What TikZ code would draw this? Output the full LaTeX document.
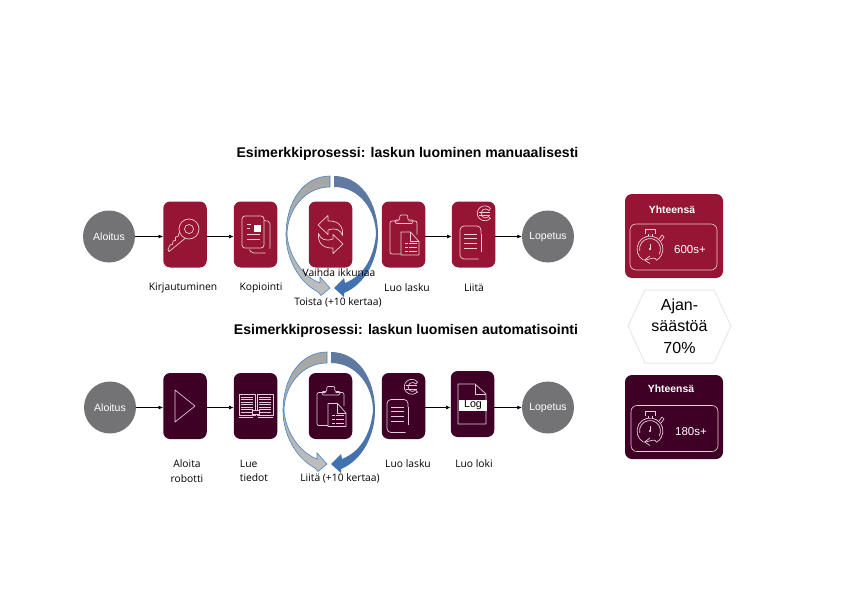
\documentclass[tikz,border=0pt]{standalone}
\usepackage{fontspec}
\setmainfont{Liberation Sans}
\newfontfamily\labelfont{Open Sans}
\usetikzlibrary{arrows, arrows.meta}
\usetikzlibrary{positioning}
\definecolor{procred}{RGB}{150,21,52}
\definecolor{procdark}{RGB}{63,0,38}
\definecolor{startgray}{RGB}{115,115,118}
\definecolor{iconred}{RGB}{238,205,213}
\definecolor{icondark}{RGB}{228,205,220}
\definecolor{hexline}{RGB}{232,232,232}
\definecolor{arrowblue}{RGB}{74,134,197}
\definecolor{looptop}{RGB}{98,122,160}
\definecolor{loopmid}{RGB}{78,112,165}
\definecolor{loopend}{RGB}{62,112,178}
\definecolor{graytop}{RGB}{165,165,165}
\definecolor{grayend}{RGB}{190,190,190}
\tikzset{
	stepbox/.style={rectangle, rounded corners=7pt, minimum width=43.5pt, minimum height=66pt, inner sep=0pt},
	endcircle/.style={circle, fill=startgray, text=white, minimum size=52pt, inner sep=0pt, font=\fontsize{10.5}{12}\selectfont},
	steplabel/.style={font=\labelfont\fontsize{10.3}{14.5}\selectfont, text=black, inner sep=0pt, align=center},
	flow/.style={-{Latex[length=4.5pt,width=4pt]}, line width=0.6pt, black},
	heading/.style={font=\bfseries\fontsize{14.05}{16}\selectfont, inner sep=0pt},
	cardbox/.style={rectangle, rounded corners=7pt, minimum width=98pt, minimum height=84pt, inner sep=0pt},
	cardinner/.style={rectangle, rounded corners=6pt, draw=iconred, line width=0.6pt, minimum width=87pt, minimum height=46pt, inner sep=0pt},
	cardtext/.style={text=white, inner sep=0pt},
	iconline/.style={line width=0.7pt, line join=round}
}
% key
\newcommand{\iconkey}{
	\draw (4,-5.5) circle (10);
	\draw (4,-5.5) circle (4.5);
	\draw (-5.5,-2.5) -- (-7,2) -- (-9.5,2.5) -- (-9.5,6) -- (-12,6.5) -- (-12.5,10) -- (-15,10.5) -- (-17,15) -- (-16,17) -- (0,4);
}
% copied page
\newcommand{\iconcopy}{
	\draw[rounded corners=3pt] (-13.5,-18.5) rectangle (8.5,13.5);
	\draw[rounded corners=2pt] (8.5,-14) -- (14.5,-13) -- (14.5,14);
	\draw[rounded corners=2pt] (-6,15) -- (-4,18.5) -- (10,18.5);
	\fill[white] (-2,-10) rectangle (5,-3);
	\draw (-9,-10.5) -- (-4.5,-10.5);
	\draw (-9,-6) -- (-5.5,-6);
	\draw (-9,-0.5) -- (4.5,-0.5);
	\draw (-9,4.5) -- (4.5,4.5);
}
% swap arrows
\newcommand{\iconswapone}{
	\draw (-12.5,-9.5) -- (-2.5,-19) -- (-2.5,-13.5) .. controls (8,-14) and (13,-8) .. (12,1) .. controls (10,-5) and (5,-7) .. (-2.5,-4.5) -- (-2.5,0) -- cycle;
}
\newcommand{\iconswap}{
	\iconswapone
	\begin{scope}[rotate=180]
		\iconswapone
	\end{scope}
}
% clipboard with page
\newcommand{\iconclip}[1]{
	\draw[rounded corners=2pt] (-5,-13.5) -- (-13.5,-13.5) -- (-13.5,19.5) -- (-2.5,19.5);
	\draw[rounded corners=2pt] (5,-13.5) -- (13.5,-13.5) -- (13.5,0);
	\draw[rounded corners=1pt] (-8.5,-13) -- (-8.5,-14.5) -- (-4,-14.5) -- (-3.5,-19.5) -- (4,-19.5) -- (4.5,-14.5) -- (9.5,-14.5) -- (9.5,-13) -- (9,-11) -- (-8,-11) -- cycle;
	\draw[fill=#1] (-2.5,-2.5) -- (7,-2.5) -- (15.5,7) -- (15.5,20.5) -- (-2.5,20.5) -- cycle;
	\draw (7,-2.5) -- (7,7) -- (15.5,7);
	\foreach \rowy in {9,13,17} {
		\draw (1.5,\rowy) -- (4,\rowy);
		\draw (5.5,\rowy) -- (13,\rowy);
	}
}
% invoice with euro
\newcommand{\iconbill}{
	\draw[rounded corners=4pt] (7.5,-1) -- (7.5,-8.5) -- (-13.5,-8.5) -- (-13.5,24.5) -- (5,24.5);
	\draw (7.5,-1) -- (7.5,17);
	\foreach \rowy in {-0.5,3.5,8.5,13.5} {
		\draw (-9.5,\rowy) -- (3.5,\rowy);
	}
	\draw (17,-26) arc (-40:-320:7.5);
	\draw (15.5,-24) arc (-40:-320:4.5);
	\draw (17,-26) -- (15.5,-24);
	\draw (17,-15.5) -- (15.5,-17.5);
	\draw (5,-22.5) -- (16,-22.5);
	\draw (5,-19) -- (16,-19);
}
% stopwatch
\newcommand{\iconwatch}{
	\draw (120:13) arc (120:420:13);
	\draw (170:10.5) arc (170:390:10.5);
	\draw (-5,-15) -- (-5,-19.5) -- (5,-19.5) -- (5,-15);
	\draw (-2,-15) -- (-2,-13);
	\draw (2,-15) -- (2,-13);
	\draw (9,-10) -- (12,-14) -- (14,-12) -- (11,-8);
	\fill[white] (0,0) circle (1.1);
	\draw (0,0) -- (0,-5.5);
	\draw (60:13) .. controls (5,7) and (2,10) .. (-5,11);
	\draw (0,7) -- (-5.5,11) -- (0,14.5);
}
% book
\newcommand{\iconbook}{
	\draw (-16.5,-12) rectangle (-0.5,9);
	\draw (1.5,-12) rectangle (17.5,9);
	\foreach \rowy in {-9,-6.5,-4,-1.5,1,3.5,6} {
		\draw (-14.5,\rowy) -- (-2.5,\rowy);
		\draw (3.5,\rowy) -- (15.5,\rowy);
	}
	\draw (-16.5,11.5) -- (-2.5,11.5);
	\draw (2.5,11.5) -- (17.5,11.5);
	\draw[fill=procdark] (-3.5,4.5) rectangle (3.5,8.5);
}
\begin{document}
\begin{tikzpicture}[x=1pt,y=-1pt]
	\useasboundingbox (0,0) rectangle (841,594);
	% headings
	\node[heading] (manualtitle) at (407.5,153.5) {Esimerkkiprosessi: laskun luominen manuaalisesti};
	\node[heading] (autotitle) at (406,330.5) {Esimerkkiprosessi: laskun luomisen automatisointi};
	% first row
	\node[endcircle] (startA) at (109,236.5) {Aloitus};
	\node[stepbox, fill=procred] (keyA) at (185,234.5) {};
	\node[stepbox, fill=procred] (copyA) at (255.5,234.5) {};
	\node[stepbox, fill=procred] (swapA) at (330.5,234.5) {};
	\node[stepbox, fill=procred] (clipA) at (403.5,234.5) {};
	\node[stepbox, fill=procred] (billA) at (473.5,234.5) {};
	\node[endcircle] (stopA) at (548,236.5) {Lopetus};
	\draw[flow] (startA) -- (startA -| keyA.west);
	\draw[flow] (keyA.east |- startA) -- (startA -| copyA.west);
	\draw[flow] (clipA.east |- startA) -- (startA -| billA.west);
	\draw[flow] (billA.east |- startA) -- (stopA);
	% second row
	\node[endcircle] (startB) at (110,407.5) {Aloitus};
	\node[stepbox, fill=procdark] (playB) at (185,406) {};
	\node[stepbox, fill=procdark] (bookB) at (255.5,406) {};
	\node[stepbox, fill=procdark] (clipB) at (330.5,406) {};
	\node[stepbox, fill=procdark] (billB) at (403.5,406) {};
	\node[stepbox, fill=procdark] (logB) at (472.5,404) {};
	\node[endcircle] (stopB) at (548,407.5) {Lopetus};
	\draw[flow] (startB) -- (startB -| playB.west);
	\draw[flow] (playB.east |- startB) -- (startB -| bookB.west);
	\draw[flow] (billB.east |- startB) -- (startB -| logB.west);
	\draw[flow] (logB.east |- startB) -- (stopB);
	% icons
	\begin{scope}[iconline, draw=iconred]
		\begin{scope}[shift={(keyA.center)}] \iconkey \end{scope}
		\begin{scope}[shift={(copyA.center)}] \iconcopy \end{scope}
		\begin{scope}[shift={(swapA.center)}] \iconswap \end{scope}
		\begin{scope}[shift={(clipA.center)}] \iconclip{procred} \end{scope}
		\begin{scope}[shift={(billA.center)}] \iconbill \end{scope}
	\end{scope}
	\begin{scope}[iconline, draw=icondark]
		\draw ([shift={(-10,-16)}]playB.center) -- ([shift={(10,0)}]playB.center) -- ([shift={(-10,16)}]playB.center) -- cycle;
		\begin{scope}[shift={(bookB.center)}] \iconbook \end{scope}
		\begin{scope}[shift={(clipB.center)}] \iconclip{procdark} \end{scope}
		\begin{scope}[shift={(400.5,408)}] \iconbill \end{scope}
		% log page
		\draw (458,424) -- (458,384) -- (475,384) -- (486,394) -- (486,424) -- cycle;
		\draw (475,384) -- (475,394) -- (486,394);
	\end{scope}
	\node[fill=white, minimum width=28pt, inner sep=0pt, text height=7.7pt, text depth=2.8pt, font=\fontsize{10.7}{12}\selectfont] (logband) at (473,405.3) {Log};
	% loop arrows
	\foreach \loopx/\loopy in {332/176,329/352} {
		\begin{scope}[shift={(\loopx,\loopy)}]
			\path[top color=looptop, middle color=loopmid, bottom color=loopend] (2,0) .. controls (28,0) and (46,25) .. (46,59) .. controls (46,82) and (34,108) .. (12,117) -- (12,121) -- (2,112) -- (12,102) -- (13,107) .. controls (30,100) and (41,85) .. (44,59) .. controls (44,35) and (28,11) .. (2,11) -- cycle;
			\path[draw=arrowblue, line width=0.6pt, top color=graytop, bottom color=grayend] (-2,0) .. controls (-28,0) and (-46,25) .. (-46,59) .. controls (-46,80) and (-35,105) .. (-14,116) -- (-11,119.5) -- (-2,112) -- (-12,101) -- (-12,107) .. controls (-30,100) and (-43,80) .. (-45,59) .. controls (-45,35) and (-28,11) .. (-2,11) -- cycle;
		\end{scope}
	}
	% labels first row
	\node[steplabel] (keyAtext) at (183,288) {Kirjautuminen};
	\node[steplabel] (copyAtext) at (261,288) {Kopiointi};
	\node[steplabel] (swapAtext) at (339,273) {Vaihda ikkunaa};
	\node[steplabel] (repeatA) at (338,302) {Toista (+10 kertaa)};
	\node[steplabel] (clipAtext) at (407,288) {Luo lasku};
	\node[steplabel] (billAtext) at (474,288) {Liitä};
	% labels second row
	\node[steplabel] (playBtext) at (187,471) {Aloita\\robotti};
	\node[steplabel, align=left] (bookBtext) at (254,471) {Lue\\tiedot};
	\node[steplabel] (repeatB) at (340,478) {Liitä (+10 kertaa)};
	\node[steplabel] (billBtext) at (408,464) {Luo lasku};
	\node[steplabel] (logBtext) at (474,464) {Luo loki};
	% totals
	\node[cardbox, fill=procred] (cardA) at (674,236) {};
	\node[cardinner] (innerA) at (673.5,247) {};
	\node[cardtext, font=\bfseries\fontsize{10.4}{12}\selectfont] (cardAtitle) at (672,209.5) {Yhteensä};
	\node[cardtext, font=\fontsize{11.5}{13}\selectfont] (cardAtime) at (690,250) {600s+};
	\begin{scope}[shift={(650,249)}, iconline, draw=iconred] \iconwatch \end{scope}
	\node[cardbox, fill=procdark] (cardB) at (674,417) {};
	\node[cardinner] (innerB) at (674.5,428.5) {};
	\node[cardtext, font=\bfseries\fontsize{10.4}{12}\selectfont] (cardBtitle) at (671,388.5) {Yhteensä};
	\node[cardtext, font=\fontsize{11.5}{13}\selectfont] (cardBtime) at (691,431.5) {180s+};
	\begin{scope}[shift={(650,431)}, iconline, draw=icondark] \iconwatch \end{scope}
	% saving
	\draw[draw=hexline, fill=white, line width=1pt] (628,326) -- (645,290) -- (714,290) -- (731,326) -- (714,363) -- (645,363) -- cycle;
	\node[align=center, inner sep=0pt, font=\fontsize{16}{21.5}\selectfont] (saving) at (679.5,326) {Ajan-\\säästöä\\70\%};
\end{tikzpicture}
\end{document}
